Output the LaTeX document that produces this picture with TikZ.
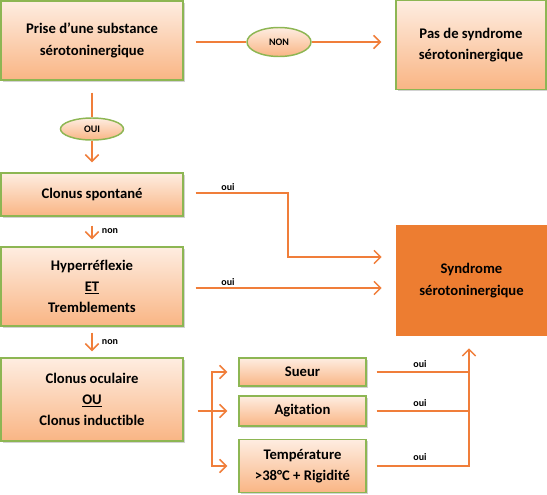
\documentclass[tikz,border=0pt]{standalone}
\usepackage{fontspec}
\setmainfont{Carlito}[Ligatures=NoCommon]
\usetikzlibrary{arrows.meta,calc,shadows,shapes.geometric}
\definecolor{lineor}{HTML}{F07E3A}
\definecolor{boxgreen}{HTML}{8DB653}
\definecolor{peachtop}{HTML}{FEEDE1}
\definecolor{peachbot}{HTML}{F9B584}
\definecolor{synor}{HTML}{ED7D31}
\begin{document}
\begin{tikzpicture}[x=0.75pt,y=-0.75pt,
  sz/.style 2 args={minimum width=#1*0.75pt, minimum height=#2*0.75pt},
  box/.style={rectangle, draw=boxgreen, line width=1.1pt, top color=peachtop, bottom color=peachbot,
    align=center, inner sep=0pt, font=\fontsize{11}{16}\selectfont\bfseries,
    drop shadow={shadow xshift=1.3pt, shadow yshift=-1.3pt, fill=black!35, opacity=0.5}},
  ell/.style={ellipse, draw=boxgreen, line width=1.1pt, top color=peachtop, bottom color=peachbot,
    inner sep=0pt, font=\fontsize{7.5}{8}\selectfont\bfseries},
  syn/.style={rectangle, fill=synor, align=center, inner sep=0pt, font=\fontsize{11}{16}\selectfont\bfseries},
  conn/.style={draw=lineor, line width=1.15pt},
  arr/.style={conn, -{Straight Barb[length=5pt,width=10pt]}},
  lab/.style={font=\fontsize{7.5}{8}\selectfont\bfseries, inner sep=0pt}]
\useasboundingbox (0,0) rectangle (547,494);
% boxes
\node[box, sz={182}{79}] (b1) at (92,40.5) {Prise d’une substance\\sérotoninergique};
\node[box, sz={150}{89}] (b2) at (471,45) {Pas de syndrome\\sérotoninergique};
\node[ell, sz={64}{29}] (non) at (279,42) {NON};
\node[ell, sz={63}{22}] (oui) at (92,129) {OUI};
\node[box, sz={182}{43}] (b3) at (92,194.5) {Clonus spontané};
\node[box, sz={182}{79}] (b4) at (92,286.5) {Hyperréflexie\\\underline{ET}\\Tremblements};
\node[box, sz={182}{83}] (b5) at (92,399.5) {Clonus oculaire\\\underline{OU}\\Clonus inductible};
\node[syn, sz={151}{111}] (syn) at (471.5,280.5) {Syndrome\\sérotoninergique};
\node[box, sz={127}{28}] (sueur) at (302.5,372) {Sueur};
\node[box, sz={127}{30}] (agit) at (302.5,411) {Agitation};
\node[box, sz={127}{53}] (temp) at (302.5,466) {Température\\>38°C + Rigidité};
% connectors top
\draw[conn] ($(b1.east)+(12,1.5)$) -- (non.west);
\draw[arr] (non.east) -- ($(b2.west)+(-14,-3)$);
\draw[conn] ($(b1.south)+(0,12)$) -- (oui.north);
\draw[arr] (oui.south) -- ($(b3.north)+(0,-10)$);
\draw[arr] ($(b3.south)+(0,9)$) -- ($(b4.north)+(0,-7)$);
\node[lab] (n1) at (110,231) {non};
\draw[arr] ($(b4.south)+(0,6)$) -- ($(b5.north)+(0,-6)$);
\node[lab] (n2) at (110,342) {non};
% oui to syndrome
\coordinate (k1) at (288,193);
\draw[arr] ($(b3.east)+(12,-1.5)$) -- (k1) |- ($(syn.west)+(-14,-23.5)$);
\node[lab] (o1) at (228,187) {oui};
\draw[arr] ($(b4.east)+(12,1.5)$) -- ($(syn.west)+(-14,7.5)$);
\node[lab] (o2) at (228,282) {oui};
% branching
\coordinate (br) at (212,411);
\draw[arr] ($(b5.east)+(14,11.5)$) -- ($(agit.west)+(-11,0)$);
\draw[arr] (br) |- ($(sueur.west)+(-11,0)$);
\draw[arr] (br) |- ($(temp.west)+(-11,0)$);
% right join
\coordinate (jn) at (469,466);
\draw[conn] ($(sueur.east)+(10,0)$) -- (sueur.east -| jn);
\draw[conn] ($(agit.east)+(10,0)$) -- (agit.east -| jn);
\draw[arr] ($(temp.east)+(10,0)$) -- (jn) -- ($(syn.south)+(-2.5,12)$);
\node[lab] (o3) at (420,364) {oui};
\node[lab] (o4) at (420,403) {oui};
\node[lab] (o5) at (420,457) {oui};
\end{tikzpicture}
\end{document}
